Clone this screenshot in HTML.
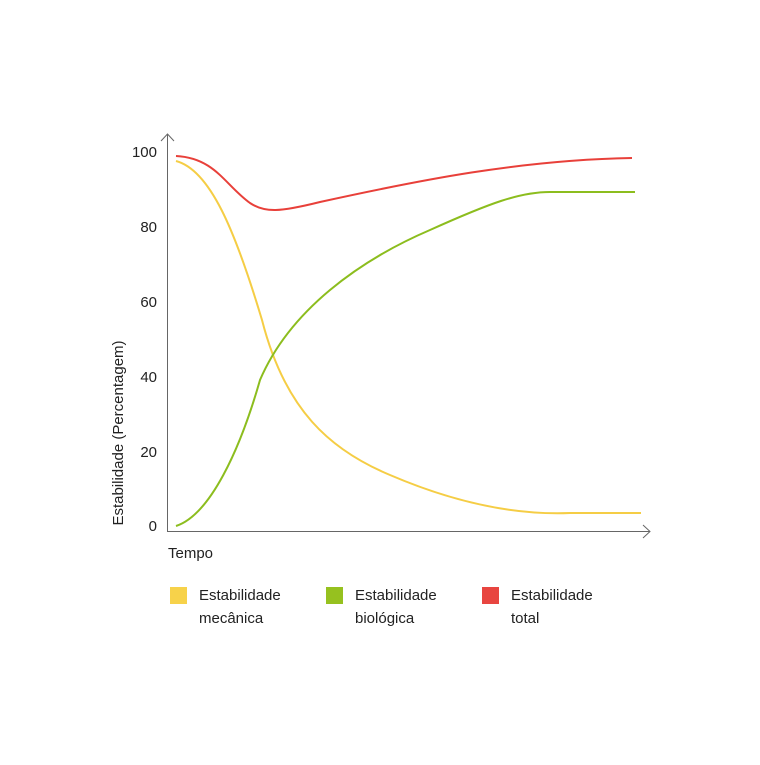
<!DOCTYPE html>
<html><head><style>body{margin:0;background:#fff}</style></head><body>
<svg width="760" height="760" xmlns="http://www.w3.org/2000/svg" style="font-family:'Liberation Sans',sans-serif;fill:#222">
<g stroke="#666" stroke-width="1" fill="none">
<line x1="167.5" y1="134" x2="167.5" y2="532"/>
<polyline points="161,141 167.5,134 174,141"/>
<line x1="167" y1="531.5" x2="650" y2="531.5"/>
<polyline points="643,525 650,531.5 643,538"/>
</g>
<g font-size="15" text-anchor="end">
<text x="157" y="157">100</text>
<text x="157" y="232">80</text>
<text x="157" y="307">60</text>
<text x="157" y="382">40</text>
<text x="157" y="457">20</text>
<text x="157" y="531">0</text>
</g>
<text transform="translate(123,433) rotate(-90)" font-size="15" text-anchor="middle">Estabilidade (Percentagem)</text>
<text x="168" y="558" font-size="15">Tempo</text>
<g fill="none" stroke-width="2">
<path d="M176,161 C210,170 235,230 262,320 C285,410 330,450 390,475 C460,505 520,515 570,513 L641,513" stroke="#f5cd45"/>
<path d="M176,526 C210,515 240,450 260,380 C290,310 360,260 430,230 C490,203 520,192 550,192 L635,192" stroke="#8cbd1e"/>
<path d="M176,156 C215,158 225,185 250,203 C265,213 280,212 320,202 C420,180 520,160 632,158" stroke="#e8403a"/>
</g>
<rect x="170" y="587" width="17" height="17" fill="#f7d24a"/>
<rect x="326" y="587" width="17" height="17" fill="#96c11f"/>
<rect x="482" y="587" width="17" height="17" fill="#e84540"/>
<g font-size="15">
<text x="199" y="600">Estabilidade</text><text x="199" y="623">mecânica</text>
<text x="355" y="600">Estabilidade</text><text x="355" y="623">biológica</text>
<text x="511" y="600">Estabilidade</text><text x="511" y="623">total</text>
</g>
</svg>
</body></html>
